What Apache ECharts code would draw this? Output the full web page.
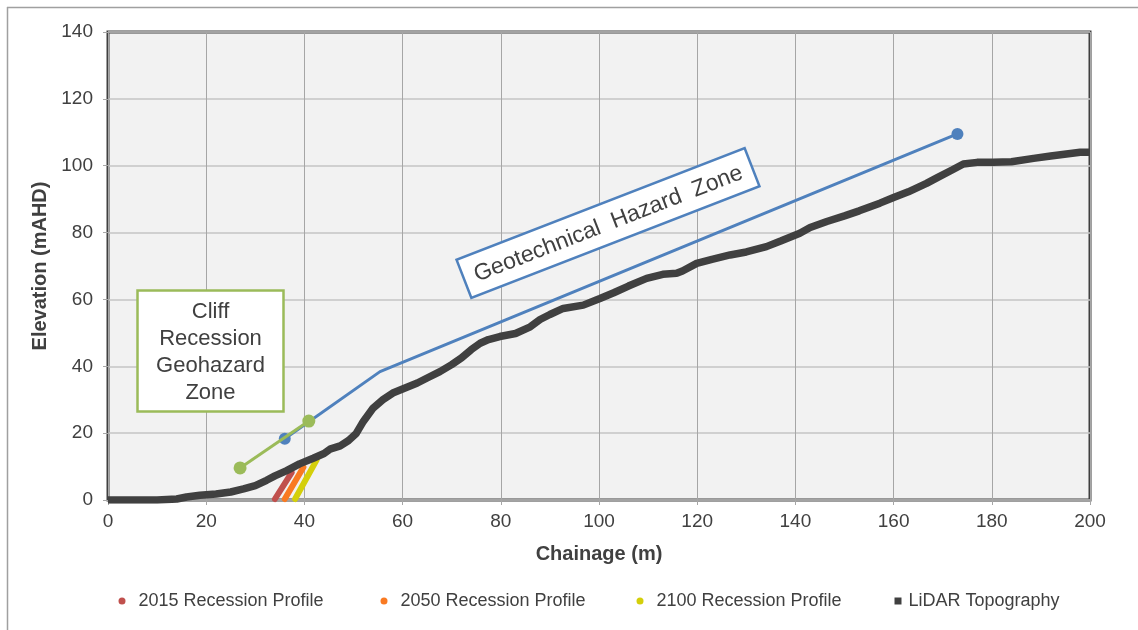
<!DOCTYPE html>
<html>
<head>
<meta charset="utf-8">
<script src="https://cdn.jsdelivr.net/npm/echarts@6/dist/echarts.min.js"></script>
<style>html,body{margin:0;padding:0;background:#fff}#c{width:1138px;height:630px}</style>
</head>
<body>
<div id="c"></div>
<script>
const xTicks = [0, 20, 40, 60, 80, 100, 120, 140, 160, 180, 200];
const yTicks = [0, 20, 40, 60, 80, 100, 120, 140];

const lidarX = [0,5,10,14,16,18.7,22,25,27.6,30,32.3,34,36.4,39,41.8,44,45.2,47.3,49,50.5,52,54,56,58,60,63,65,67.6,70,72,74,75.8,77.5,79.8,83,86,88,90,92.7,96.8,100.2,103,106,109.7,113,115.8,117,119.9,123,126.7,130,134.1,137,140.9,143,146.4,150,153,157.2,160,163,166.7,169,172,174.2,177,180.3,184,188.5,192,195.2,198,200];
const lidarY = [0,0,0,0.3,0.9,1.4,1.8,2.4,3.3,4.3,5.9,7.2,8.8,10.8,12.5,13.9,15.2,16.2,17.8,19.8,23.5,27.5,30,32,33.2,35,36.5,38.4,40.5,42.5,45,46.9,48,48.9,49.8,51.8,54,55.5,57.3,58.3,60.3,62,64,66.3,67.5,67.8,68.5,70.8,72,73.3,74.2,75.8,77.5,79.8,81.5,83.3,85,86.5,88.8,90.5,92.2,94.7,96.5,98.8,100.5,101,101,101.2,102.2,102.9,103.5,104,104];

const rec2015X = [34.0, 37.4];
const rec2015Y = [0.3, 8.2];
const rec2050X = [36.0, 39.8];
const rec2050Y = [0.3, 9.8];
const rec2100X = [38.1, 42.5];
const rec2100Y = [0.3, 12.0];

const geoX = [36, 55.4, 173];
const geoY = [18.3, 38.4, 109.5];
const cliffX = [26.9, 40.9];
const cliffY = [9.6, 23.6];

const seriesNames = ['2015 Recession Profile', '2050 Recession Profile', '2100 Recession Profile', 'LiDAR Topography'];

const zip = (xs, ys) => xs.map((x, i) => [x, ys[i]]);

const chart = echarts.init(document.getElementById('c'), null, {renderer: 'canvas'});

const font = 'Liberation Sans, Arial, sans-serif';
const txt = '#404040';

function legendAt(left, name, icon, pad) {
  return {
    left: left, top: 592, orient: 'horizontal', padding: 0,
    itemWidth: 7, itemHeight: 7, selectedMode: false,
    data: [{name: name, icon: icon}],
    textStyle: {fontFamily: font, fontSize: 18, color: txt, padding: [0, 0, 0, pad]}
  };
}

const recStyle = (c) => ({
  type: 'line', symbol: 'none', z: 3,
  lineStyle: {color: c, width: 6, cap: 'round'},
  itemStyle: {color: c}
});

const option = {
  animation: false,
  backgroundColor: '#ffffff',
  grid: {
    left: 108, right: 48, top: 32, bottom: 130,
    show: true, backgroundColor: '#f2f2f2', borderColor: '#404040', borderWidth: 3
  },
  xAxis: {
    type: 'value', min: 0, max: 200, interval: 20,
    name: 'Chainage (m)', nameLocation: 'middle', nameGap: 44,
    nameTextStyle: {fontFamily: font, fontSize: 20, fontWeight: 'bold', color: txt},
    axisLine: {show: false},
    axisTick: {show: true, length: 5, lineStyle: {color: '#a6a6a6'}},
    axisLabel: {fontFamily: font, fontSize: 19, color: txt, margin: 12,
      formatter: (v) => xTicks.includes(v) ? String(v) : ''},
    splitLine: {show: true, lineStyle: {color: '#a6a6a6', width: 1}}
  },
  yAxis: {
    type: 'value', min: 0, max: 140, interval: 20,
    name: 'Elevation (mAHD)', nameLocation: 'middle', nameGap: 54,
    nameTextStyle: {fontFamily: font, fontSize: 20, fontWeight: 'bold', color: txt},
    axisLine: {show: false},
    axisTick: {show: true, length: 5, lineStyle: {color: '#a6a6a6'}},
    axisLabel: {fontFamily: font, fontSize: 19, color: txt, margin: 15,
      formatter: (v) => yTicks.includes(v) ? String(v) : ''},
    splitLine: {show: true, lineStyle: {color: '#c4c4c4', width: 1.5}}
  },
  legend: [
    legendAt(118.5, seriesNames[0], 'circle', 8),
    legendAt(380.5, seriesNames[1], 'circle', 8),
    legendAt(636.5, seriesNames[2], 'circle', 8),
    legendAt(894.5, seriesNames[3], 'rect', 2)
  ],
  series: [
    Object.assign(recStyle('#c0504d'), {name: seriesNames[0], data: zip(rec2015X, rec2015Y)}),
    Object.assign(recStyle('#f97a22'), {name: seriesNames[1], data: zip(rec2050X, rec2050Y)}),
    Object.assign(recStyle('#d4cf0a'), {name: seriesNames[2], data: zip(rec2100X, rec2100Y)}),
    {
      name: seriesNames[3], type: 'line', symbol: 'none', z: 4,
      lineStyle: {color: '#404040', width: 7.5},
      itemStyle: {color: '#404040'},
      data: zip(lidarX, lidarY)
    },
    {
      name: 'Geotechnical', type: 'line', z: 5,
      symbol: 'circle', symbolSize: 12, showSymbol: true,
      lineStyle: {color: '#4f81bd', width: 3},
      itemStyle: {color: '#4f81bd'},
      data: zip(geoX, geoY).map((p, i) => (i === 0 || i === geoX.length - 1) ? {value: p} : {value: p, symbol: 'none'})
    },
    {
      name: 'Cliff', type: 'line', z: 6,
      symbol: 'circle', symbolSize: 13,
      lineStyle: {color: '#9bbb59', width: 3},
      itemStyle: {color: '#9bbb59'},
      data: zip(cliffX, cliffY)
    }
  ],
  graphic: [
    {type: 'line', shape: {x1: 7, y1: 7.5, x2: 1138, y2: 7.5}, style: {stroke: '#a0a0a0', lineWidth: 1.5}, silent: true},
    {type: 'line', shape: {x1: 7.5, y1: 7, x2: 7.5, y2: 630}, style: {stroke: '#a0a0a0', lineWidth: 1.5}, silent: true},
    {
      type: 'group',
      children: [
        {type: 'rect', z: 100, shape: {x: 137.5, y: 290.5, width: 146, height: 121},
          style: {fill: '#ffffff', stroke: '#9bbb59', lineWidth: 2.5}},
        {type: 'text', z: 101, x: 210.5, y: 352,
          style: {text: 'Cliff\nRecession\nGeohazard\nZone', align: 'center', verticalAlign: 'middle',
            font: '22px ' + font, fill: txt, lineHeight: 27}}
      ]
    },
    {
      type: 'group', x: 608, y: 223, rotation: 21.2 * Math.PI / 180,
      children: [
        {type: 'rect', z: 100, shape: {x: -154.5, y: -20.5, width: 309, height: 41},
          style: {fill: '#ffffff', stroke: '#4f81bd', lineWidth: 2.5}},
        {type: 'text', z: 101, x: 0, y: 1,
          style: {text: 'Geotechnical  Hazard  Zone', align: 'center', verticalAlign: 'middle',
            font: '23px ' + font, fill: txt}}
      ]
    }
  ]
};

chart.setOption(option);
</script>
</body>
</html>
